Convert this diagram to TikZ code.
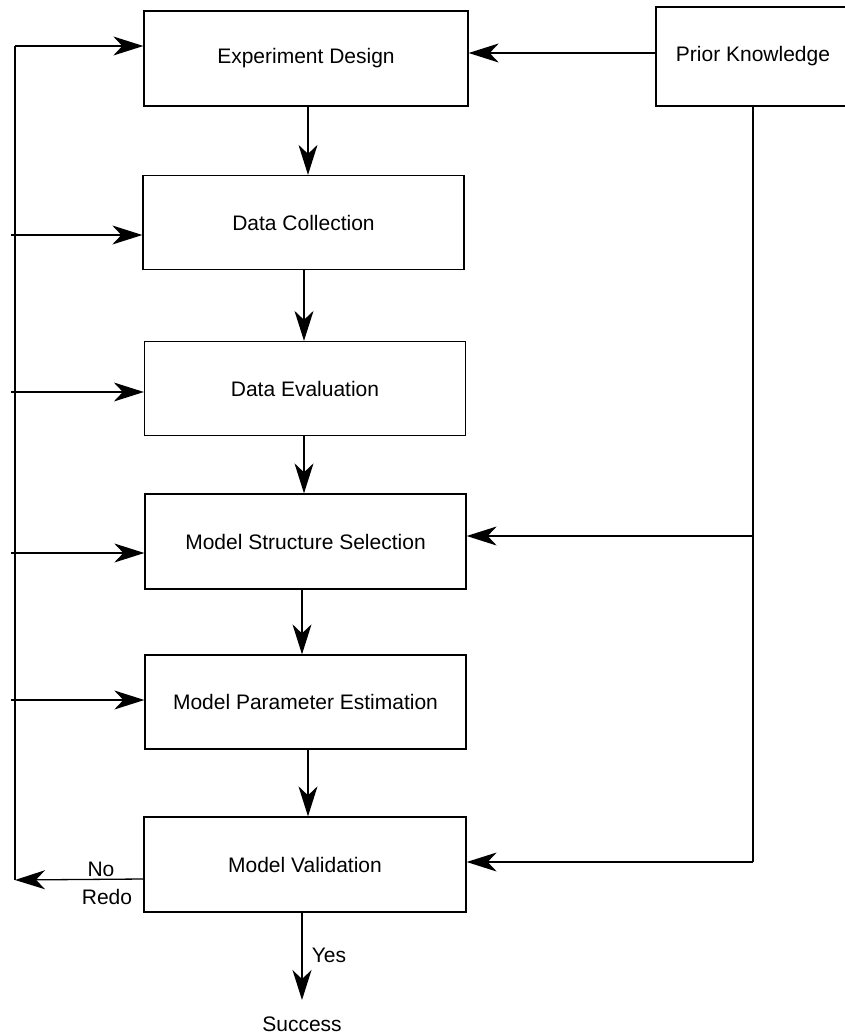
\documentclass[tikz,border=0pt]{standalone}
\usepackage{fontspec}
\setmainfont{Liberation Sans}
\usetikzlibrary{arrows.meta}
\begin{document}
\begin{tikzpicture}[x=1pt,y=-1pt,
  box/.style={draw,line width=1.3pt,minimum width=321pt,minimum height=94pt,inner sep=0pt,font=\fontsize{21}{24}\selectfont},
  arr/.style={line width=1.3pt,-{Stealth[length=30pt,width=19pt,inset=9pt]}},
  ln/.style={line width=1.3pt},
  lbl/.style={font=\fontsize{21}{24}\selectfont,inner sep=0pt}]
\useasboundingbox (0,0) rectangle (845,1036);
\node[box,minimum width=324pt,minimum height=95pt] (exp) at (306,58.5) {Experiment Design};
\node[box,minimum width=194pt,minimum height=99pt] (prior) at (753,56.5) {Prior Knowledge};
\node[box] (dc) at (303.5,222.5) {Data Collection};
\node[box] (de) at (305,388.5) {Data Evaluation};
\node[box,minimum height=95pt] (mss) at (305.5,541.5) {Model Structure Selection};
\node[box] (mpe) at (305.5,702) {Model Parameter Estimation};
\node[box,minimum width=322pt,minimum height=95pt] (mv) at (305,864.5) {Model Validation};
% left feedback line
\coordinate (ltop) at (15,46);
\coordinate (lbot) at (15,880);
\coordinate (l2) at (11,235);
\coordinate (l3) at (11,392);
\coordinate (l4) at (11,553);
\coordinate (l5) at (11,700);
\draw[ln] (ltop) -- (lbot);
\draw[arr] (ltop) -- (ltop -| exp.west);
\draw[arr] (l2) -- (l2 -| dc.west);
\draw[arr] (l3) -- (l3 -| de.west);
\draw[arr] (l4) -- (l4 -| mss.west);
\draw[arr] (l5) -- (l5 -| mpe.west);
\draw[arr] (mv.west |- 0,879) -- (lbot);
\node[lbl] (no) at (101,869) {No};
\node[lbl] (redo) at (107,897) {Redo};
% main chain
\draw[arr] ([xshift=2pt]exp.south) -- ([xshift=2pt]exp.south |- dc.north);
\draw[arr] ([xshift=0.5pt]dc.south) -- ([xshift=0.5pt]dc.south |- de.north);
\draw[arr] ([xshift=-1pt]de.south) -- ([xshift=-1pt]de.south |- mss.north);
\draw[arr] ([xshift=-3.5pt]mss.south) -- ([xshift=-3.5pt]mss.south |- mpe.north);
\draw[arr] ([xshift=2.5pt]mpe.south) -- ([xshift=2.5pt]mpe.south |- mv.north);
% prior knowledge
\coordinate (pk1) at (753,536);
\coordinate (pk2) at (753,862);
\draw[arr] (prior.west |- 0,53) -- (exp.east |- 0,53);
\draw[ln] (prior.south) -- (pk2);
\draw[arr] (pk1) -- (pk1 -| mss.east);
\draw[arr] (pk2) -- (pk2 -| mv.east);
% success
\node[lbl] (succ) at (302,1024) {Success};
\coordinate (yend) at (302,1000);
\draw[arr] ([xshift=-3pt]mv.south) -- (yend);
\node[lbl] (yes) at (329,955) {Yes};
\end{tikzpicture}
\end{document}
